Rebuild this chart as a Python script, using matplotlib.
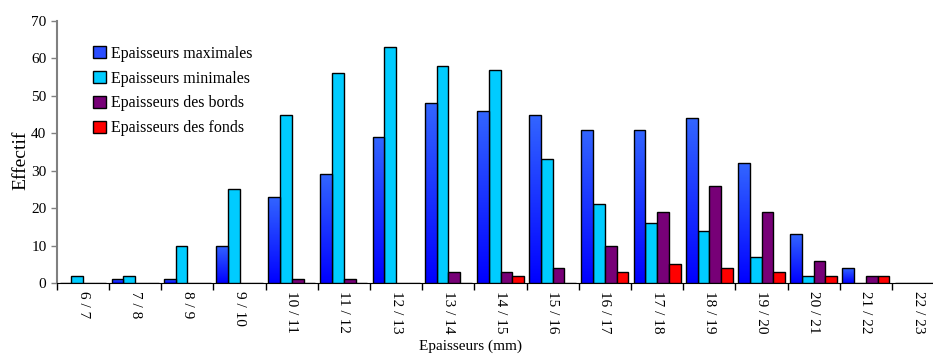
import numpy as np
import matplotlib
matplotlib.use("Agg")
import matplotlib.pyplot as plt
from matplotlib.patches import Patch
from matplotlib.colors import LinearSegmentedColormap

plt.rcParams['font.family'] = ['Liberation Serif', 'DejaVu Serif']

categories = ["6 / 7", "7 / 8", "8 / 9", "9 / 10", "10 / 11", "11 / 12", "12 / 13", "13 / 14",
              "14 / 15", "15 / 16", "16 / 17", "17 / 18", "18 / 19", "19 / 20", "20 / 21",
              "21 / 22", "22 / 23"]
ep_max = [0, 1, 1, 10, 23, 29, 39, 48, 46, 45, 41, 41, 44, 32, 13, 4, 0]
ep_min = [2, 2, 10, 25, 45, 56, 63, 58, 57, 33, 21, 16, 14, 7, 2, 0, 0]
ep_bords = [0, 0, 0, 0, 1, 1, 0, 3, 3, 4, 10, 19, 26, 19, 6, 2, 0]
ep_fonds = [0, 0, 0, 0, 0, 0, 0, 0, 2, 0, 3, 5, 4, 3, 2, 2, 0]

labels = ["Epaisseurs maximales", "Epaisseurs minimales", "Epaisseurs des bords", "Epaisseurs des fonds"]
colors = ["#2a4dff", "#00ccff", "#770077", "#ff0000"]

fig = plt.figure(figsize=(9.33, 3.56), dpi=100)
ax = fig.add_axes([0.061, 0.205, 0.951, 0.736])

x = np.arange(len(categories))
w = 0.225
series = [ep_max, ep_min, ep_bords, ep_fonds]
offsets = (np.arange(4) - 1.5) * w

# gradient for the "maximales" bars: dark blue at bottom, lighter at top
grad = np.linspace(0, 1, 256).reshape(-1, 1)
cmap = LinearSegmentedColormap.from_list("bl", ["#0000ff", "#3366ff"])

for i, (vals, col) in enumerate(zip(series, colors)):
    bars = ax.bar(x + offsets[i], vals, w, color=col, edgecolor="black", linewidth=1.0, zorder=3)
    if i == 0:
        for b in bars:
            h = b.get_height()
            if h <= 0:
                continue
            bx = b.get_x()
            im = ax.imshow(grad, extent=[bx, bx + w, 0, h], origin="lower", aspect="auto",
                           cmap=cmap, zorder=3.5)
            im.set_clip_path(b)
            b.set_facecolor("none")
            b.set_zorder(4)

ax.set_xlim(-0.5, len(categories) - 0.5)
ax.set_ylim(0, 70)
ax.set_yticks(range(0, 71, 10))
ax.set_xticks(np.arange(len(categories) + 1) - 0.5, minor=False)
ax.set_xticklabels([])
ax.set_xticks(x, minor=True)
ax.set_xticklabels(categories, minor=True, rotation=-90, fontsize=11)
ax.tick_params(axis="x", which="minor", length=0, pad=6)
ax.tick_params(axis="x", which="major", length=5, width=1)
ax.tick_params(axis="y", length=4, labelsize=11, width=1, color="#808080")

ax.spines["top"].set_visible(False)
ax.spines["right"].set_visible(False)
ax.spines["left"].set_color("#808080")
ax.spines["left"].set_linewidth(1.5)

ax.set_ylabel("Effectif", fontsize=14, va="center")
ax.yaxis.set_label_coords(-0.041, 0.47)
ax.set_xlabel("Epaisseurs (mm)", fontsize=11, va="center")
ax.xaxis.set_label_coords(0.466, -0.24)

handles = [Patch(facecolor=c, edgecolor="black", label=l) for c, l in zip(colors, labels)]
ax.legend(handles=handles, loc="upper left", bbox_to_anchor=(0.025, 0.96), frameon=False,
          fontsize=11.5, handlelength=0.8, handleheight=0.8, handletextpad=0.3, labelspacing=0.55)

fig.savefig("out.png", dpi=100)
